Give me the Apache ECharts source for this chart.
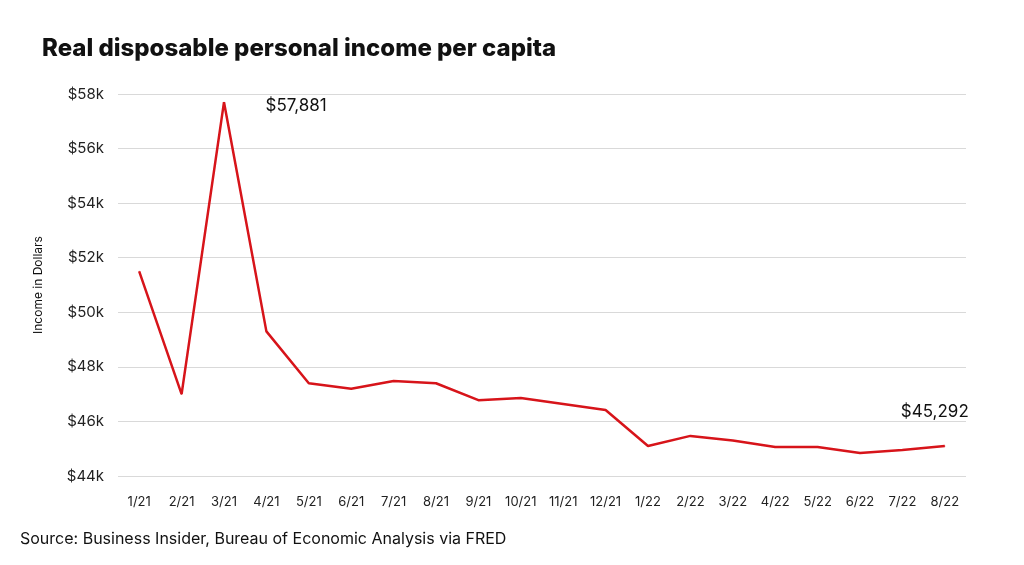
<!DOCTYPE html>
<html><head><meta charset="utf-8">
<script src="https://cdn.jsdelivr.net/npm/echarts@6/dist/echarts.min.js"></script>
<style>html,body{margin:0;background:#fff}#c{width:1024px;height:565px}</style>
</head><body><div id="c"></div>
<script>
const categories=['1/21','2/21','3/21','4/21','5/21','6/21','7/21','8/21','9/21','10/21','11/21','12/21','1/22','2/22','3/22','4/22','5/22','6/22','7/22','8/22'];
const income=[51.5,47.0,57.7,49.3,47.4,47.2,47.48,47.4,46.78,46.86,46.64,46.42,45.1,45.47,45.3,45.06,45.06,44.84,44.95,45.1];
const annotations={2:'$57,881',19:'$45,292'};
const yTicks={min:44,max:58,interval:2};
const font='Inter, "Noto Sans", sans-serif';
const data=income.map((v,i)=>{
  if(!annotations[i]) return v;
  const lab=i===2?{show:true,formatter:annotations[i],position:'right',offset:[36,4],fontSize:17,color:'#111',fontFamily:font}
                  :{show:true,formatter:annotations[i],position:'top',offset:[-10,-20],fontSize:17,color:'#111',fontFamily:font};
  return {value:v,label:lab};
});
const chart=echarts.init(document.getElementById('c'));
chart.setOption({
  animation:false,
  title:[{text:'Real disposable personal income per capita',left:37,top:32,textStyle:{fontFamily:font,fontSize:24,fontWeight:800,color:'#111'}},
         {text:'Source: Business Insider, Bureau of Economic Analysis via FRED',left:15,top:526,textStyle:{fontFamily:font,fontSize:16,fontWeight:'normal',color:'#111'}}],
  grid:{left:118,right:58,top:94,bottom:89},
  xAxis:{type:'category',data:categories,boundaryGap:true,axisLine:{show:false},axisTick:{show:false},
    axisLabel:{fontFamily:font,fontSize:13,color:'#222',margin:20}},
  yAxis:{type:'value',min:yTicks.min,max:yTicks.max,interval:yTicks.interval,
    name:'Income in Dollars',nameLocation:'middle',nameGap:74,nameRotate:90,nameTextStyle:{fontFamily:font,fontSize:12,color:'#111'},
    axisLabel:{formatter:v=>'$'+v+'k',fontFamily:font,fontSize:15,color:'#222',margin:14},
    splitLine:{lineStyle:{color:'#d9d9d9'}}},
  series:[{type:'line',data:data,symbol:'circle',symbolSize:1,showSymbol:true,itemStyle:{color:'#d7141a'},lineStyle:{color:'#d7141a',width:2.5},label:{show:false}}]
});
</script></body></html>
